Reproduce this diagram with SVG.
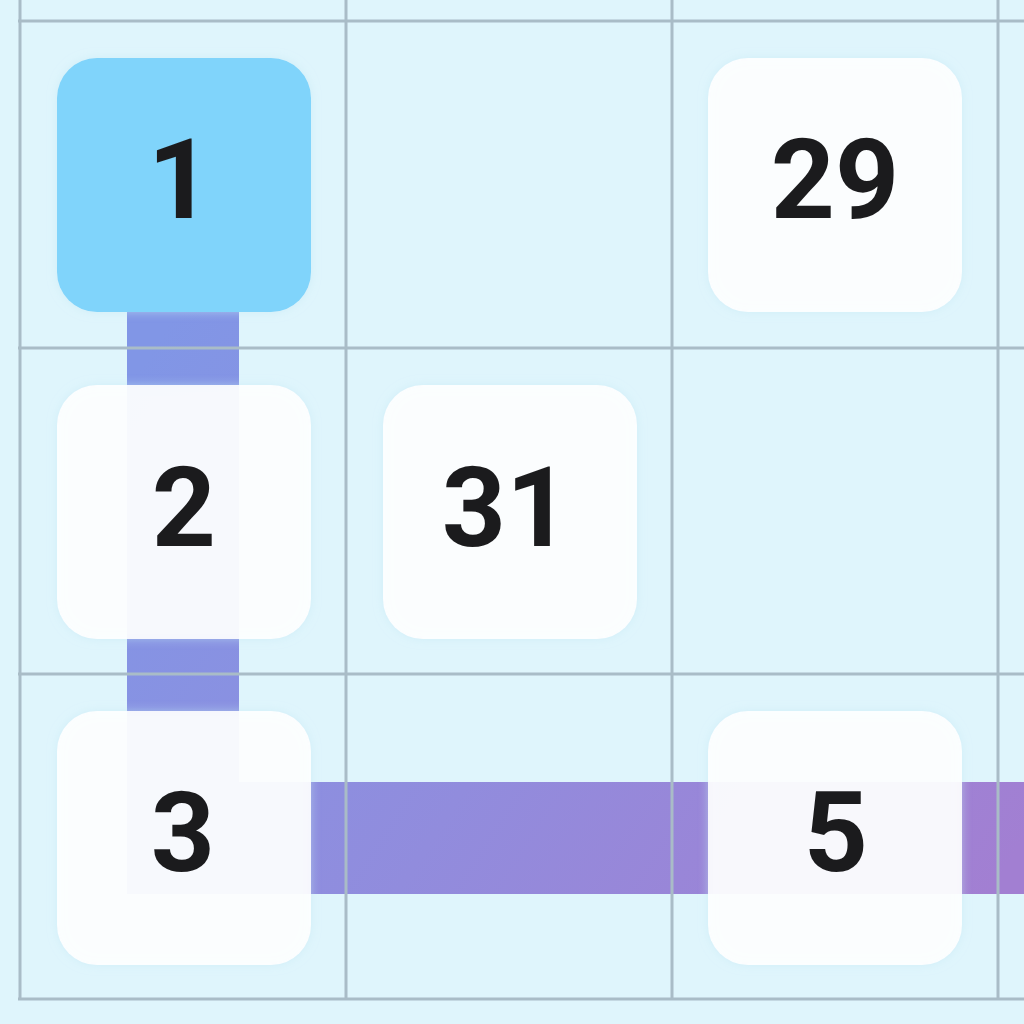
<svg xmlns="http://www.w3.org/2000/svg" width="1024" height="1024" viewBox="0 0 1024 1024">
  <defs>
    <linearGradient id="pathGrad" gradientUnits="userSpaceOnUse" x1="183" y1="300" x2="1024" y2="840">
      <stop offset="0" stop-color="#8196e6"/>
      <stop offset="0.5" stop-color="#918cdd"/>
      <stop offset="1" stop-color="#a27fd2"/>
    </linearGradient>
    <filter id="glow" x="-20%" y="-20%" width="140%" height="140%">
      <feGaussianBlur in="SourceAlpha" stdDeviation="6"/>
      <feFlood flood-color="#bfe6f4" flood-opacity="0.7"/>
      <feComposite operator="in" in2="SourceAlpha" result="s0"/>
      <feGaussianBlur in="SourceAlpha" stdDeviation="5" result="b"/>
      <feFlood flood-color="#c4e8f5" flood-opacity="0.6"/>
      <feComposite operator="in" in2="b" result="sh"/>
      <feMerge>
        <feMergeNode in="sh"/>
        <feMergeNode in="SourceGraphic"/>
      </feMerge>
    </filter>
    <style>
      .grid { stroke: #a9bcc7; stroke-width: 3; fill: none; }
      .tile { fill: #ffffff; fill-opacity: 0.9; }
      .tile-start { fill: #80d4fb; }
      .num { font-family: Roboto, "Liberation Sans", sans-serif; font-weight: 700; font-size: 112px; fill: #1b1b1d; text-anchor: middle; }
    </style>
  </defs>

  <rect x="0" y="0" width="1024" height="1024" fill="#dff5fc"/>

  <g id="connectors">
    <polyline points="183,185 183,838 1030,838" fill="none" stroke="url(#pathGrad)" stroke-width="112" stroke-linejoin="miter"/>
  </g>

  <g id="grid" class="grid">
    <line x1="20" y1="0" x2="20" y2="1000"/>
    <line x1="346" y1="0" x2="346" y2="1000"/>
    <line x1="672" y1="0" x2="672" y2="1000"/>
    <line x1="998" y1="0" x2="998" y2="1000"/>
    <line x1="18" y1="21" x2="1024" y2="21"/>
    <line x1="18" y1="348" x2="1024" y2="348"/>
    <line x1="18" y1="674" x2="1024" y2="674"/>
    <line x1="18" y1="999" x2="1024" y2="999"/>
  </g>

  <g id="node-1">
    <rect class="tile-start" x="57" y="58" width="254" height="254" rx="40" filter="url(#glow)"/>
    <text class="num" x="180" y="218">1</text>
  </g>
  <g id="node-29">
    <rect class="tile" x="708" y="58" width="254" height="254" rx="40" filter="url(#glow)"/>
    <text class="num" x="835" y="218">29</text>
  </g>
  <g id="node-2">
    <rect class="tile" x="57" y="385" width="254" height="254" rx="40" filter="url(#glow)"/>
    <text class="num" x="184" y="546">2</text>
  </g>
  <g id="node-31">
    <rect class="tile" x="383" y="385" width="254" height="254" rx="40" filter="url(#glow)"/>
    <text class="num" x="506" y="546">31</text>
  </g>
  <g id="node-3">
    <rect class="tile" x="57" y="711" width="254" height="254" rx="40" filter="url(#glow)"/>
    <text class="num" x="183" y="871">3</text>
  </g>
  <g id="node-5">
    <rect class="tile" x="708" y="711" width="254" height="254" rx="40" filter="url(#glow)"/>
    <text class="num" x="836" y="871">5</text>
  </g>
</svg>
